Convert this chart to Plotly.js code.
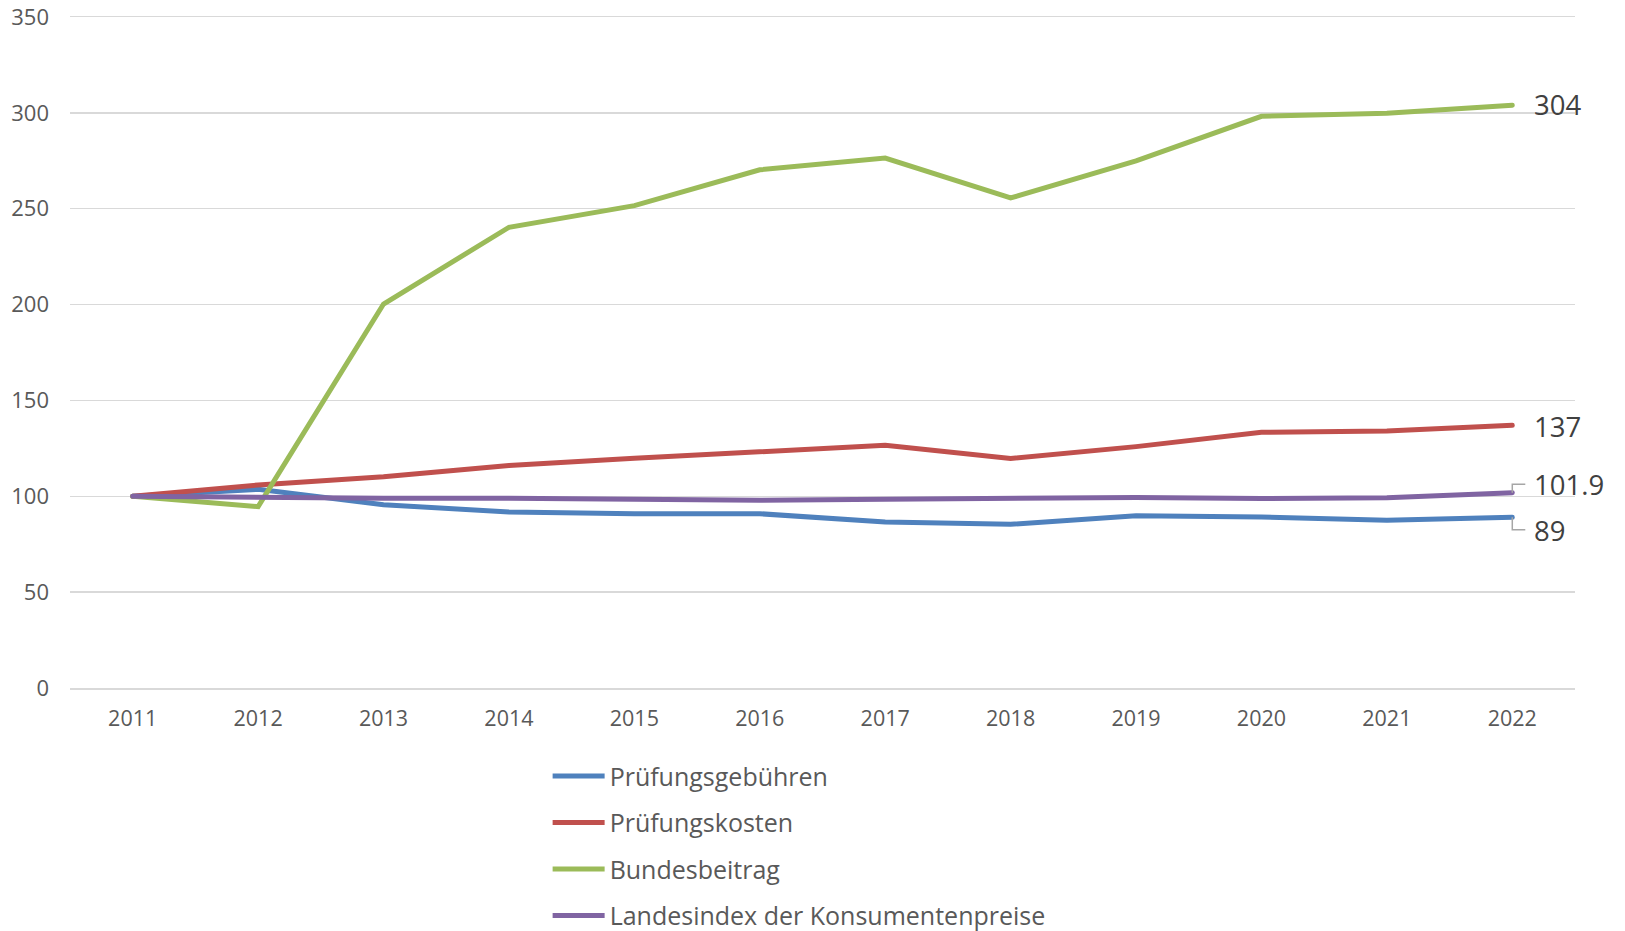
<!DOCTYPE html>
<html>
<head>
<meta charset="utf-8">
<script src="https://cdn.plot.ly/plotly-3.0.1.min.js"></script>
<style>html,body{margin:0;padding:0;background:#fff;}#chart{width:1625px;height:931px;}
#chart .scatterlayer path.js-line{stroke-linecap:round;}</style>
</head>
<body>
<div id="chart"></div>
<script>
const years = [2011, 2012, 2013, 2014, 2015, 2016, 2017, 2018, 2019, 2020, 2021, 2022];
const seriesNames = ["Prüfungsgebühren", "Prüfungskosten", "Bundesbeitrag", "Landesindex der Konsumentenpreise"];
const pruefungsgebuehren = [100, 103.6, 95.6, 91.8, 90.9, 90.9, 86.6, 85.4, 89.8, 89.2, 87.5, 89];
const pruefungskosten = [100, 105.9, 110.2, 116.1, 119.8, 123.3, 126.6, 119.7, 125.9, 133.4, 134.0, 137];
const bundesbeitrag = [100, 94.6, 200.3, 240.3, 251.6, 270.3, 276.4, 255.6, 275.0, 298.2, 299.8, 304];
const landesindex = [100, 99.4, 99.0, 99.0, 98.2, 97.9, 98.4, 99.0, 99.4, 98.8, 99.2, 101.9];
const endLabels = ["89", "137", "304", "101.9"];
const yTicks = [0, 50, 100, 150, 200, 250, 300, 350];

const colors = ["#4F81BD", "#C0504D", "#9BBB59", "#8064A2"];
const allSeries = [pruefungsgebuehren, pruefungskosten, bundesbeitrag, landesindex];

const traces = allSeries.map((vals, i) => ({
  type: "scatter",
  mode: "lines",
  x: years,
  y: vals,
  name: seriesNames[i],
  legendgroup: "g" + i,
  line: {color: colors[i], width: 5, shape: "linear"},
  hoverinfo: "x+y+name"
}));

const lastX = years[years.length - 1];
const labelShift = [-13, -1, 1, 8];
const annotations = allSeries.map((vals, i) => ({
  x: lastX,
  y: vals[vals.length - 1],
  xref: "x", yref: "y",
  text: endLabels[i],
  showarrow: false,
  xanchor: "left",
  yanchor: "middle",
  xshift: 20,
  yshift: labelShift[i],
  font: {family: "Open Sans, sans-serif", size: 27.5, color: "#404040"}
}));

const shapes = [
  {type: "path", xref: "x", yref: "y", xsizemode: "pixel", ysizemode: "pixel",
   xanchor: lastX, yanchor: landesindex[landesindex.length - 1],
   path: "M0,0 V8.5 H13", line: {color: "#A6A6A6", width: 1.5}},
  {type: "path", xref: "x", yref: "y", xsizemode: "pixel", ysizemode: "pixel",
   xanchor: lastX, yanchor: pruefungsgebuehren[pruefungsgebuehren.length - 1],
   path: "M0,0 V-12.5 H13", line: {color: "#A6A6A6", width: 1.5}}
];

const layout = {
  width: 1625, height: 931,
  margin: {l: 70, r: 50, t: 17, b: 243, autoexpand: false},
  paper_bgcolor: "#ffffff", plot_bgcolor: "#ffffff",
  font: {family: "Open Sans, sans-serif", color: "#595959"},
  showlegend: true,
  legend: {
    orientation: "v",
    xref: "container", yref: "container",
    x: 0.337, y: 0.191, xanchor: "left", yanchor: "top",
    traceorder: "grouped", tracegroupgap: 11,
    itemwidth: 52,
    font: {family: "Open Sans, sans-serif", size: 25, color: "#595959"},
    bgcolor: "rgba(0,0,0,0)"
  },
  xaxis: {
    type: "linear",
    range: [2010.5, 2022.5],
    tickvals: years,
    ticktext: years.map(String),
    tickangle: 0,
    showgrid: false, zeroline: false,
    showline: true, mirror: true, linecolor: "#D9D9D9", linewidth: 1.5,
    ticks: "", ticklabelstandoff: 11,
    tickfont: {family: "Open Sans, sans-serif", size: 21.5, color: "#595959"}
  },
  yaxis: {
    range: [0, 350],
    tickvals: yTicks,
    showgrid: true, gridcolor: "#D9D9D9", gridwidth: 1.5,
    zeroline: false, showline: false,
    ticks: "", ticklabelstandoff: 20,
    tickfont: {family: "Open Sans, sans-serif", size: 22, color: "#595959"}
  },
  annotations: annotations,
  shapes: shapes
};

Plotly.newPlot("chart", traces, layout, {displayModeBar: false, staticPlot: true});
</script>
</body>
</html>
